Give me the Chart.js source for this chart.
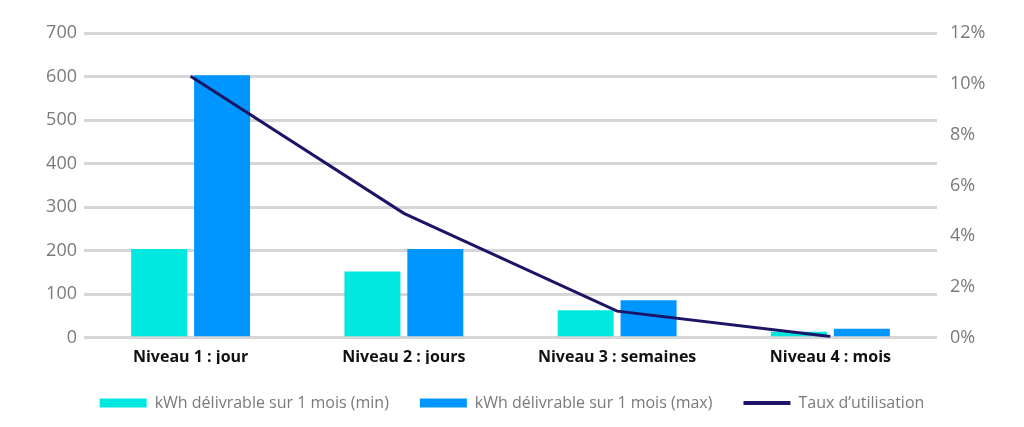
<!DOCTYPE html>
<html>
<head>
<meta charset="utf-8">
<script src="https://cdn.jsdelivr.net/npm/chart.js@4/dist/chart.umd.min.js"></script>
<style>
  html, body { margin: 0; padding: 0; background: #fff; }
  #wrap { width: 1024px; height: 427px; }
</style>
</head>
<body>
<div id="wrap"><canvas id="chart"></canvas></div>
<script>
const categories = ["Niveau 1 : jour", "Niveau 2 : jours", "Niveau 3 : semaines", "Niveau 4 : mois"];
const kwhMin = [204, 152, 63, 14];
const kwhMax = [603, 204, 86, 21];
const tauxUtilisation = [10.3, 4.9, 1.05, 0.05];

const GRAY = "#7a7a7a";
const FONT = "'Open Sans', sans-serif";

const ctx = document.getElementById("chart");

const config = {
  type: "bar",
  data: {
    labels: categories,
    datasets: [
      {
        label: "kWh délivrable sur 1 mois (min)",
        data: kwhMin,
        backgroundColor: "#00e8e0",
        yAxisID: "y",
        order: 2,
        categoryPercentage: 0.59,
        barPercentage: 0.89,
      },
      {
        label: "kWh délivrable sur 1 mois (max)",
        data: kwhMax,
        backgroundColor: "#0096ff",
        yAxisID: "y",
        order: 2,
        categoryPercentage: 0.59,
        barPercentage: 0.89,
      },
      {
        type: "line",
        label: "Taux d’utilisation",
        data: tauxUtilisation,
        borderColor: "#1c1466",
        backgroundColor: "#1c1466",
        borderWidth: 3,
        pointRadius: 0,
        tension: 0,
        yAxisID: "y1",
        order: 1,
      },
    ],
  },
  options: {
    responsive: true,
    maintainAspectRatio: false,
    animation: false,
    layout: {
      padding: { top: 33, bottom: 6, left: 0, right: 0 },
    },
    plugins: {
      tooltip: { enabled: false },
      legend: {
        position: "bottom",
        labels: {
          usePointStyle: true,
          pointStyleWidth: 47,
          boxHeight: 9,
          padding: 31,
          color: GRAY,
          font: { family: FONT, size: 16 },
          generateLabels: (chart) =>
            chart.data.datasets.map((ds, i) => ({
              text: ds.label,
              fillStyle: ds.backgroundColor,
              strokeStyle: ds.type === "line" ? ds.borderColor : ds.backgroundColor,
              lineWidth: ds.type === "line" ? 4 : 0,
              pointStyle: ds.type === "line" ? "line" : "rect",
              fontColor: GRAY,
              hidden: false,
              datasetIndex: i,
            })),
        },
      },
    },
    scales: {
      x: {
        grid: { display: false, drawTicks: false },
        border: { display: false },
        ticks: {
          color: "#111",
          padding: 10,
          font: { family: FONT, size: 16, weight: "bold" },
        },
        afterFit: (scale) => {
          scale.height = scale.height - 13;
        },
      },
      y: {
        position: "left",
        min: 0,
        max: 700,
        ticks: {
          stepSize: 100,
          padding: 7,
          color: GRAY,
          font: { family: FONT, size: 18 },
        },
        grid: { color: "#d6d6d6", lineWidth: 3, drawTicks: false },
        border: { display: false },
        afterFit: (scale) => {
          scale.width = 84;
        },
      },
      y1: {
        position: "right",
        min: 0,
        max: 12,
        ticks: {
          stepSize: 2,
          padding: 13,
          color: GRAY,
          font: { family: FONT, size: 18 },
          callback: (v) => v + "%",
        },
        grid: { display: false, drawTicks: false },
        border: { display: false },
        afterFit: (scale) => {
          scale.width = 87;
        },
      },
    },
  },
};

new Chart(ctx, config);
</script>
</body>
</html>
